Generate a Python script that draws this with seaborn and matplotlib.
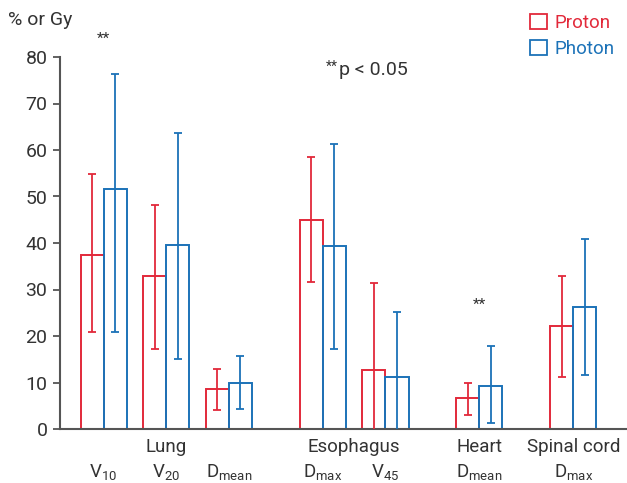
import numpy as np
import pandas as pd
import matplotlib
matplotlib.use("Agg")
import matplotlib.pyplot as plt
import matplotlib.transforms as mtransforms
from matplotlib.patches import Patch
import seaborn as sns

# ---- data ----
params = [r"V$_{10}$", r"V$_{20}$", r"D$_{\rm mean}$", r"D$_{\rm max}$", r"V$_{45}$", r"D$_{\rm mean}$", r"D$_{\rm max}$"]
organs = ["Lung", "Esophagus", "Heart", "Spinal cord"]
organ_members = [[1], [3, 4], [5], [6]]
group_pos = [0, 2, 4, 7, 9, 12, 15]
proton = [37.4, 32.8, 8.7, 45.0, 12.7, 6.6, 22.1]
proton_lo = [20.8, 17.1, 4.0, 31.7, -6.1, 3.0, 11.1]
proton_hi = [54.8, 48.1, 12.8, 58.4, 31.5, 9.8, 33.0]
photon = [51.7, 39.5, 9.9, 39.4, 11.1, 9.3, 26.2]
photon_lo = [20.8, 15.1, 4.2, 17.3, -2.9, 1.3, 11.6]
photon_hi = [76.4, 63.7, 15.8, 61.3, 25.1, 17.8, 40.8]
significant = [0, 5]
sig_y = [84.0, 26.7]
modalities = ["Proton", "Photon"]
colors = {"Proton": "#e2293a", "Photon": "#1b72b8"}

rows = []
for i, p in enumerate(group_pos):
    rows.append({"pos": p, "modality": "Proton", "value": proton[i]})
    rows.append({"pos": p, "modality": "Photon", "value": photon[i]})
df = pd.DataFrame(rows)

sns.set_style("white")
plt.rcParams["font.family"] = ["Roboto", "DejaVu Sans"]
plt.rcParams["mathtext.fontset"] = "custom"
plt.rcParams["mathtext.rm"] = "Roboto"
plt.rcParams["mathtext.it"] = "Roboto:italic"

fig = plt.figure(figsize=(6.27, 4.83), dpi=100)
ax = fig.add_axes([60/627, 1-429/483, 1-60/627, (429-57)/483])

sns.barplot(data=df, x="pos", y="value", hue="modality", hue_order=modalities,
            native_scale=True, width=0.735, fill=False, palette=colors,
            errorbar=None, linewidth=1.4, legend=False, ax=ax)

# error bars
patches = sorted(ax.patches, key=lambda p: p.get_x())
lo_all, hi_all, val_all, col_all = [], [], [], []
for i in range(len(group_pos)):
    lo_all += [proton_lo[i], photon_lo[i]]
    hi_all += [proton_hi[i], photon_hi[i]]
    val_all += [proton[i], photon[i]]
    col_all += [colors["Proton"], colors["Photon"]]
for p, lo, hi, v, c in zip(patches, lo_all, hi_all, val_all, col_all):
    cx = p.get_x() + p.get_width() / 2
    ax.errorbar([cx], [v], yerr=[[v - lo], [hi - v]], fmt="none", ecolor=c,
                elinewidth=1.3, capsize=3.2, capthick=1.3, zorder=3)

ax.set_ylim(0, 80)
ax.set_xlim(-1.39, 16.71)
ax.set_yticks(np.arange(0, 81, 10))
ax.set_xticks(group_pos)
ax.set_xticklabels(params)
ax.set_xlabel("")
ax.set_ylabel("")
for s in ["top", "right"]:
    ax.spines[s].set_visible(False)
for s in ["left", "bottom"]:
    ax.spines[s].set_color("#555555")
    ax.spines[s].set_linewidth(1.5)
ax.tick_params(axis="y", which="both", left=True, length=5, width=1.3, color="#555555",
               labelsize=14, labelcolor="#333333", pad=4)
ax.tick_params(axis="x", bottom=False, labelsize=13.5, labelcolor="#333333", pad=20)

trans = mtransforms.blended_transform_factory(ax.transData, ax.transAxes)
for name, members in zip(organs, organ_members):
    xc = np.mean([group_pos[m] for m in members])
    ax.text(xc, -18/372, name, transform=trans, ha="center", va="center",
            fontsize=13.5, color="#333333")

for i, yv in zip(significant, sig_y):
    ax.text(group_pos[i], yv, "**", ha="center", va="center",
            fontsize=11, color="#333333", clip_on=False)

fig.text(326/627, 1-67/483, "**", ha="left", va="center", fontsize=10, color="#333333")
fig.text(339/627, 1-70/483, "p < 0.05", ha="left", va="center", fontsize=14, color="#333333")
fig.text(8/627, 1-20/483, "% or Gy", ha="left", va="center", fontsize=14, color="#333333")

handles = [Patch(facecolor="none", edgecolor=colors[m], linewidth=1.3, label=m) for m in modalities]
leg = fig.legend(handles=handles, loc="upper right", bbox_to_anchor=(631/627, 1+3/483),
                 frameon=False, fontsize=13.5, handlelength=0.9, handleheight=0.9,
                 handletextpad=0.4, labelspacing=0.4, labelcolor=[colors[m] for m in modalities])

fig.savefig("out.png", dpi=100)
